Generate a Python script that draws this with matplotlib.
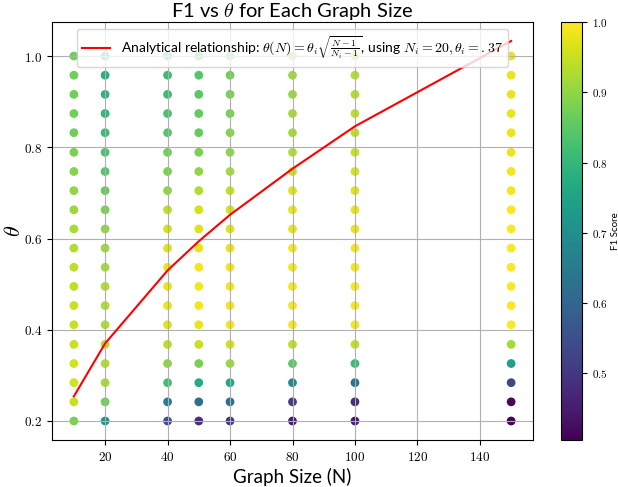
import numpy as np
import matplotlib
matplotlib.use("Agg")
import matplotlib.pyplot as plt
from matplotlib.ticker import FuncFormatter

plt.rcParams['mathtext.fontset'] = 'cm'
plt.rcParams['font.family'] = ['Lato', 'DejaVu Sans']

# graph sizes and theta grid
graph_sizes = [10, 20, 40, 50, 60, 80, 100, 150]
thetas = [0.2, 0.242, 0.284, 0.326, 0.368, 0.411, 0.453, 0.495, 0.537, 0.579,
          0.621, 0.663, 0.705, 0.747, 0.789, 0.832, 0.874, 0.916, 0.958, 1.0]

# F1 per graph size, from theta=0.2 upward
f1_n10 = [0.88, 0.95, 0.96, 0.96, 0.95, 0.95, 0.95, 0.94, 0.94, 0.93,
          0.92, 0.91, 0.90, 0.89, 0.88, 0.87, 0.87, 0.87, 0.87, 0.87]
f1_n20 = [0.71, 0.87, 0.92, 0.93, 0.93, 0.93, 0.93, 0.93, 0.92, 0.91,
          0.90, 0.88, 0.86, 0.84, 0.83, 0.81, 0.80, 0.79, 0.78, 0.78]
f1_n40 = [0.54, 0.66, 0.82, 0.90, 0.94, 0.97, 0.98, 0.98, 0.98, 0.97,
          0.96, 0.94, 0.90, 0.88, 0.87, 0.84, 0.83, 0.81, 0.81, 0.80]
f1_n50 = [0.48, 0.63, 0.77, 0.88, 0.95, 0.98, 0.99, 0.99, 0.99, 0.98,
          0.97, 0.96, 0.93, 0.90, 0.88, 0.86, 0.86, 0.85, 0.84, 0.84]
f1_n60 = [0.49, 0.63, 0.76, 0.91, 0.96, 0.99, 0.99, 0.99, 0.99, 0.98,
          0.97, 0.96, 0.95, 0.92, 0.90, 0.89, 0.88, 0.88, 0.87, 0.87]
f1_n80 = [0.45, 0.51, 0.69, 0.85, 0.94, 0.99, 0.99, 0.99, 0.99, 0.99,
          0.98, 0.98, 0.97, 0.95, 0.93, 0.92, 0.92, 0.91, 0.91, 0.90]
f1_n100 = [0.44, 0.48, 0.63, 0.81, 0.94, 0.99, 0.99, 0.99, 0.99, 0.99,
           0.98, 0.98, 0.97, 0.96, 0.95, 0.94, 0.94, 0.93, 0.93, 0.92]
f1_n150 = [0.405, 0.42, 0.53, 0.74, 0.92, 1.0, 1.0, 1.0, 1.0, 1.0,
           1.0, 1.0, 0.99, 0.99, 0.98, 0.98, 0.98, 0.98, 0.98, 0.98]

# analytical curve
theta_analytic = [0.254, 0.37, 0.53, 0.594, 0.652, 0.753, 0.846, 1.033]

f1_all = [f1_n10, f1_n20, f1_n40, f1_n50, f1_n60, f1_n80, f1_n100, f1_n150]
xs = np.repeat(graph_sizes, len(thetas))
ys = np.tile(thetas, len(graph_sizes))
cs = np.concatenate(f1_all)

fig = plt.figure(figsize=(6.18, 4.87), dpi=100)
ax = fig.add_axes([52/618, 47/487, 481/618, 418/487])
cax = fig.add_axes([561/618, 47/487, 21/618, 418/487])

sc = ax.scatter(xs, ys, c=cs, cmap='viridis', s=28)
ax.plot(graph_sizes, theta_analytic, color='red', linewidth=1.5,
        label=r'Analytical relationship: $\theta(N) = \theta_i\sqrt{\frac{N-1}{N_i-1}}$, using $N_i = 20, \theta_i = .37$')
ax.grid(True)
ax.set_title(r'F1 vs $\theta$ for Each Graph Size', fontsize=14.5, pad=3)
ax.set_xlabel('Graph Size (N)', fontsize=13.5)
ax.set_ylabel(r'$\theta$', fontsize=16)
ax.yaxis.set_label_coords(-0.058, 0.5)
ax.legend(loc='upper center', fontsize=10)

ax.xaxis.set_major_formatter(FuncFormatter(lambda v, p: '$%d$' % v))
ax.yaxis.set_major_formatter(FuncFormatter(lambda v, p: '$%.1f$' % v))
ax.tick_params(labelsize=9.5)

cbar = fig.colorbar(sc, cax=cax)
cbar.set_label('F1 Score', fontsize=7, labelpad=2)
cbar.ax.yaxis.set_major_formatter(FuncFormatter(lambda v, p: '$%.1f$' % v))
cbar.ax.tick_params(labelsize=8)

fig.savefig('out.png', dpi=100)
